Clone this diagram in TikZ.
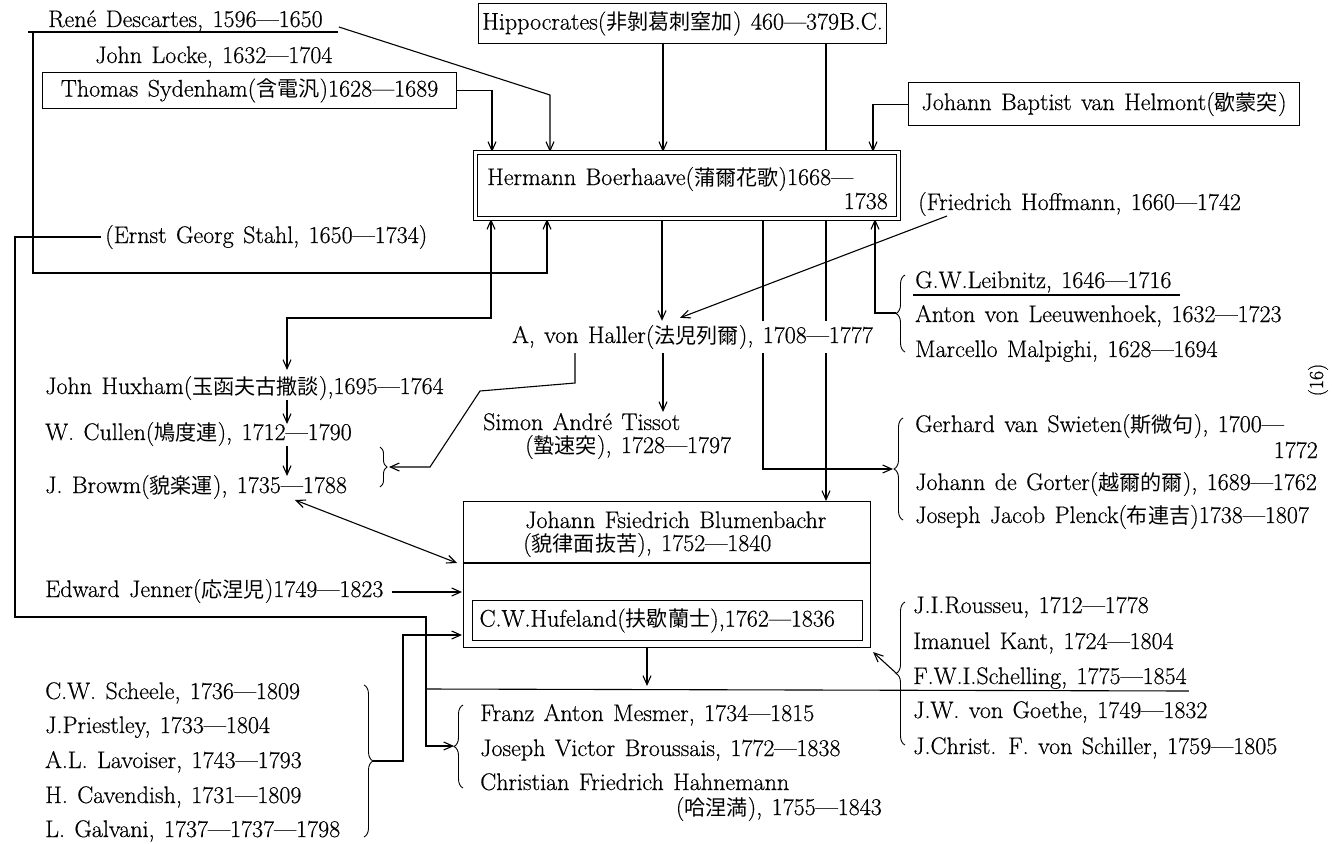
\documentclass[tikz,border=0pt]{standalone}
\usepackage{fontspec}
\setmainfont{Latin Modern Roman}[WordSpace=1.3,FakeBold=0.5]
\newfontfamily\cjk{Noto Sans CJK JP}[Scale=0.88]
\newcommand\cj[1]{{\cjk #1}}
\newcommand\fs{\fontsize{24}{27}\selectfont}
\usetikzlibrary{arrows.meta,decorations.pathreplacing,calc}
\pgfdeclarelayer{bg}
\pgfsetlayers{bg,main}
\begin{document}
\begin{tikzpicture}[x=1pt,y=-1pt,
  txt/.style={anchor=base west,inner sep=0pt,font=\fs},
  txe/.style={anchor=base east,inner sep=0pt,font=\fs},
  boxn/.style={draw,line width=1.1pt,anchor=north west,inner xsep=3pt,inner ysep=0pt,font=\fs,fill=white},
  conn/.style={line width=1.1pt},
  arr/.style={conn,-{Straight Barb[length=9pt,width=8pt]}},
  darr/.style={conn,{Straight Barb[length=9pt,width=8pt]}-{Straight Barb[length=9pt,width=8pt]}},
  brc/.style={line width=0.9pt,decorate,decoration={brace,amplitude=9pt}},
  uline/.style={line width=1.1pt}]
\useasboundingbox (0,0) rectangle (1332,843);

% ---- nodes ----
\node[txt] (desc) at (48,27) {René Descartes, 1596—1650};
\node[txt] (locke) at (95,63) {John Locke, 1632—1704};
\node[boxn,minimum width=414pt,minimum height=36pt] (syd) at (42,72) {Thomas Sydenham(\cj{含電汎})1628—1689};
\node[boxn,minimum width=408pt,minimum height=40pt] (hipp) at (478,3) {Hippocrates(\cj{非剝葛刺窒加}) 460—379B.C.};
\node[boxn,minimum width=391pt,minimum height=43pt] (helm) at (908,82) {Johann Baptist van Helmont(\cj{歇蒙突})};
\node[draw,double,double distance=2.5pt,line width=1pt,fill=white,anchor=north west,minimum width=423pt,minimum height=66pt,inner sep=0pt] (boer) at (475,152) {};
\node[txt] (boerA) at (487,185) {Hermann Boerhaave(\cj{蒲爾花歌})1668—};
\node[txe] (boerB) at (888,209) {1738};
\node[txt] (hoff) at (918,210) {(Friedrich Hoffmann, 1660—1742};
\node[txt] (stahl) at (105,243) {(Ernst Georg Stahl, 1650—1734)};
\node[txt] (leib) at (915,288) {G.W.Leibnitz, 1646—1716};
\node[txt] (leeu) at (915,322) {Anton von Leeuwenhoek, 1632—1723};
\node[txt] (malp) at (915,357) {Marcello Malpighi, 1628—1694};
\node[txt,inner sep=4pt,fill=white] (haller) at (508,343) {A, von Haller(\cj{法児列爾}), 1708—1777};
\node[txt] (tisA) at (483,430) {Simon André Tissot};
\node[txt] (tisB) at (525,453) {(\cj{蟄速突}), 1728—1797};
\node[txt] (hux) at (45,394) {John Huxham(\cj{玉函夫古撒談}),1695—1764};
\node[txt] (cul) at (45,440) {W. Cullen(\cj{鳩度連}), 1712—1790};
\node[txt] (brow) at (45,493) {J. Browm(\cj{貌楽運}), 1735—1788};
\node[txt] (swie) at (915,432) {Gerhard van Swieten(\cj{斯微句}), 1700—};
\node[txe] (swie2) at (1318,458) {1772};
\node[txt] (gort) at (915,490) {Johann de Gorter(\cj{越爾的爾}), 1689—1762};
\node[txt] (plen) at (915,523) {Joseph Jacob Plenck(\cj{布連吉})1738—1807};
\node[draw,line width=1.1pt,fill=white,anchor=north west,minimum width=407pt,minimum height=146pt,inner sep=0pt] (blum) at (463,501) {};
\draw[conn] ($(blum.north west)+(0,62)$) -- ($(blum.north east)+(0,62)$);
\node[txt] (blumA) at (525,528) {Johann Fsiedrich Blumenbachr};
\node[txt] (blumB) at (523,551) {(\cj{貌律面抜苦}), 1752—1840};
\node[boxn,minimum width=390pt,minimum height=40pt,text width=376pt,inner xsep=7pt,align=left] (hufe) at (472,600) {C.W.Hufeland(\cj{扶歇蘭士}),1762—1836};
\node[txt] (jenn) at (45,597) {Edward Jenner(\cj{応涅児})1749—1823};
\node[txt] (sche) at (45,699) {C.W. Scheele, 1736—1809};
\node[txt] (prie) at (45,733) {J.Priestley, 1733—1804};
\node[txt] (lavo) at (45,768) {A.L. Lavoiser, 1743—1793};
\node[txt] (cave) at (45,803) {H. Cavendish, 1731—1809};
\node[txt] (galv) at (45,837) {L. Galvani, 1737—1737—1798};
\node[txt] (mesm) at (480,721) {Franz Anton Mesmer, 1734—1815};
\node[txt] (brou) at (480,756) {Joseph Victor Broussais, 1772—1838};
\node[txt] (hahn) at (480,790) {Christian Friedrich Hahnemann};
\node[txe] (hahn2) at (882,815) {(\cj{哈涅満}), 1755—1843};
\node[txt] (rous) at (913,613) {J.I.Rousseu, 1712—1778};
\node[txt] (kant) at (913,649) {Imanuel Kant, 1724—1804};
\node[txt] (schel) at (913,684) {F.W.I.Schelling, 1775—1854};
\node[txt] (goet) at (913,718) {J.W. von Goethe, 1749—1832};
\node[txt] (schi) at (913,754) {J.Christ. F. von Schiller, 1759—1805};
\node[rotate=90,font=\fontsize{20}{22}\selectfont,inner sep=0pt] (pg) at (1318,380) {(16)};

% ---- brace tips ----
\coordinate (cbtip) at (389,467);
\coordinate (chtip) at (373,761);
\coordinate (leibtip) at (896,313);
\coordinate (swtip) at (893,469);
\coordinate (rotip) at (896,673);
\coordinate (mstip) at (454,746);

% ---- braces ----
\draw[brc,decoration={amplitude=7pt}] (380,447) -- (380,487);
\draw[brc] (364,685) -- (364,837);
\draw[brc] (905,352) -- (905,275);
\draw[brc] (903,520) -- (903,418);
\draw[brc] (905,745) -- (905,602);
\draw[brc] (463,788) -- (463,705);

% ---- connectors ----
\begin{pgfonlayer}{bg}
\draw[uline] ($(desc.base west)+(-20,5)$) -- ($(desc.base east)+(15,5)$);
\draw[arr] ($(desc.base west)+(-15,5)$) -- (33,273) -| ($(boer.south west)+(72,0)$);
\draw[arr] ($(desc.base east)+(16,0)$) -- (550,95) -- ($(boer.north west)+(75,0)$);
\draw[arr] (syd.east) -| ($(boer.north west)+(17,0)$);
\draw[arr] ($(hipp.south west)+(185,0)$) -- ($(boer.north west)+(188,0)$);
\draw[arr] ($(hipp.south west)+(348,0)$) -- ($(blum.north west)+(363,0)$);
\draw[arr] (helm.west) -| ($(boer.north west)+(398,0)$);
\draw[arr] ($(boer.south west)+(187,0)$) -- ($(haller.north west)+(154,0)$);
\draw[arr] ($(boer.south west)+(288,0)$) |- (swtip);
\draw[arr] ($(hoff.base west)+(29,6)$) -- ($(haller.north west)+(172,-3)$);
\draw[arr] (leibtip) -| ($(boer.south west)+(400,0)$);
\draw[uline] ($(leib.base west)+(-2,7)$) -- ($(leib.base east)+(8,7)$);
\draw[darr] ($(hux.base west)+(242,-24)$) |- (491,318) -- ($(boer.south west)+(16,0)$);
\draw[arr] ($(hux.base west)+(242,6)$) -- ($(cul.base west)+(242,-16)$);
\draw[arr] ($(cul.base west)+(242,6)$) -- ($(brow.base west)+(242,-17)$);
\draw[arr] ($(haller.south west)+(67,0)$) -- (575,383) -- (480,391) -- (430,467) -- (cbtip);
\draw[arr] ($(haller.south west)+(155,0)$) -- ($(tisA.base west)+(180,-18)$);
\draw[darr] ($(brow.base west)+(250,7)$) -- ($(blum.north west)+(-6,62)$);
\draw[arr] ($(jenn.base east)+(8,-5)$) -- ($(blum.north west)+(-1,91)$);
\draw[arr] (chtip) -- (403,761) |- ($(blum.north west)+(-1,134)$);
\draw[arr] ($(stahl.west)+(-4,0)$) -| (15,617) -- (426,617) -- (426,746) -- (mstip);
\draw[uline] (426,689) -- ($(schel.base east)+(2,7)$);
\draw[arr] ($(blum.south west)+(184,0)$) -- (647,686);
\draw[arr] (rotip) -- ($(blum.south east)+(2,4)$);
\end{pgfonlayer}
\end{tikzpicture}
\end{document}
